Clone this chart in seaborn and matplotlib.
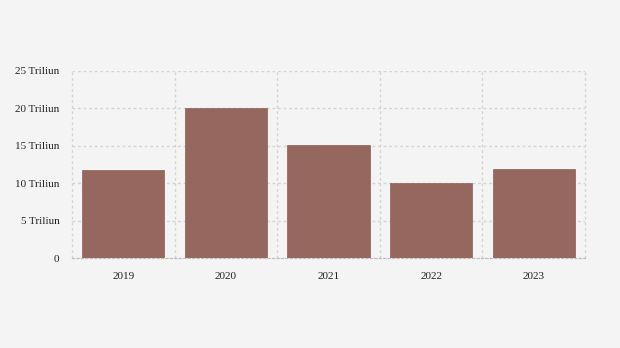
import matplotlib
matplotlib.use("Agg")
import matplotlib.pyplot as plt
import seaborn as sns
import pandas as pd
import numpy as np
from matplotlib.ticker import FixedLocator

years = ["2019", "2020", "2021", "2022", "2023"]
values = [11.8, 20.1, 15.1, 10.0, 11.9]
yticks = [0, 5, 10, 15, 20, 25]
ytick_labels = ["0", "5 Triliun", "10 Triliun", "15 Triliun", "20 Triliun", "25 Triliun"]

sns.set_style("white")
plt.rcParams['font.family'] = ['Liberation Serif', 'DejaVu Serif']

df = pd.DataFrame({"year": years, "value": values})

fig = plt.figure(figsize=(6.2, 3.48), dpi=100, facecolor="#f4f4f4")
ax = fig.add_axes([72/620, 1-258/348, (585-72)/620, (258-71)/348])
ax.set_facecolor("#f4f4f4")

sns.barplot(data=df, x="year", y="value", color="#96675e", width=0.8,
            saturation=1, ax=ax, edgecolor="#8c5d54", linewidth=0.5, zorder=3)

ax.set_xlim(-0.5, len(years) - 0.5)
ax.set_ylim(0, 25)
ax.set_yticks(yticks)
ax.set_yticklabels(ytick_labels)
ax.xaxis.set_minor_locator(FixedLocator(np.arange(-0.5, len(years), 1.0)))
ax.grid(True, axis="y", which="major", color="#d4d4d4", linestyle=(0, (2, 2)), linewidth=1, zorder=0)
ax.grid(True, axis="x", which="minor", color="#d4d4d4", linestyle=(0, (2, 2)), linewidth=1, zorder=0)
ax.grid(False, axis="x", which="major")
for s in ["top", "right", "left"]:
    ax.spines[s].set_visible(False)
ax.spines["bottom"].set_color("#bbbbbb")
ax.spines["bottom"].set_linestyle((0, (2, 2)))
ax.spines["bottom"].set_zorder(4)
ax.tick_params(axis="y", length=0, labelsize=8, colors="#222222", pad=9)
ax.tick_params(axis="x", which="major", length=4, color="#dddddd", labelsize=8, labelcolor="#222222", pad=6)
ax.tick_params(axis="x", which="minor", length=0)
for t in ax.xaxis.get_minor_ticks():
    t.gridline.set_clip_on(False)
ax.set_xlabel("")
ax.set_ylabel("")

fig.savefig("out.png", dpi=100, facecolor=fig.get_facecolor())
